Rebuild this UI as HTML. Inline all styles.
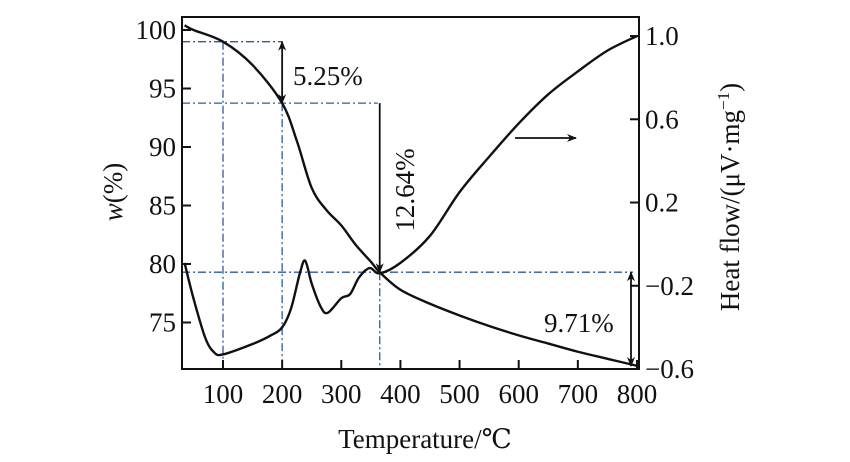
<!DOCTYPE html>
<html><head><meta charset="utf-8"><style>
body{margin:0;background:#fff;}
svg{display:block;font-family:"Liberation Serif","DejaVu Serif",serif;}
</style></head><body>
<svg id="chart" width="850" height="462" viewBox="0 0 850 462">
<defs><marker id="ah" viewBox="0 0 10 10" refX="9" refY="5" markerWidth="10" markerHeight="10" orient="auto-start-reverse" markerUnits="userSpaceOnUse"><path d="M0,1 L10,5 L0,9 L3,5 Z" fill="#111"/></marker></defs>
<g id="grid"></g>
<g id="marks"></g>
<g id="axes"></g>
</svg>
<script>
const tgTemps=[35,50,100,150,200,225,250,275,300,325,350,365,400,450,500,550,600,650,700,750,800];
const tgValues=[100.4,100,99,97,93.75,90.5,86.5,84.6,83.3,81.6,80.2,79.3,77.8,76.6,75.6,74.7,73.9,73.2,72.5,71.9,71.3];
const dscTemps=[35,50,70,85,100,150,180,200,215,230,239,250,265,277,300,315,330,348,365,400,450,500,550,600,650,700,750,800];
const dscValues=[-0.09,-0.26,-0.45,-0.52,-0.53,-0.48,-0.44,-0.40,-0.31,-0.14,-0.08,-0.19,-0.30,-0.33,-0.26,-0.24,-0.16,-0.115,-0.14,-0.09,0.04,0.25,0.42,0.58,0.72,0.83,0.93,1.0];
const xTicks=[100,200,300,400,500,600,700,800];
const wTicks=[75,80,85,90,95,100];
const hTicks=[-0.6,-0.2,0.2,0.6,1.0];
const markTemps=[100,200,365];
const markW=[99,93.75,79.3];
const NS="http://www.w3.org/2000/svg";
const L=182,R=639,T=17,B=369;
const x=t=>223+(t-100)*0.5914;
const yw=w=>30+(100-w)*11.7;
const yh=h=>B-(h+0.6)*208.1;
function el(tag,attrs,parent,text){const e=document.createElementNS(NS,tag);for(const k in attrs)e.setAttribute(k,attrs[k]);if(text!==undefined)e.textContent=text;document.getElementById(parent).appendChild(e);return e;}
markTemps.forEach((t,i)=>{
 const yy=yw(markW[i]);
 const xe=i===0?x(markTemps[1]):(i===1?x(markTemps[2])-2:R-6);
 let g=el('line',{x1:L,y1:yy,x2:xe,y2:yy,stroke:'#2a5aa0','stroke-width':1.3,'stroke-dasharray':'8,3,2,3'},'grid');
 
 
 let v=el('line',{x1:x(t),y1:yy,x2:x(t),y2:B,stroke:'#2a5aa0','stroke-width':1.3,'stroke-dasharray':'8,3,2,3'},'grid');
 
 
});
function smooth(pts){let d='M'+pts[0][0]+','+pts[0][1];for(let i=0;i<pts.length-1;i++){const p0=pts[Math.max(0,i-1)],p1=pts[i],p2=pts[i+1],p3=pts[Math.min(pts.length-1,i+2)];const c1=[p1[0]+(p2[0]-p0[0])/6,p1[1]+(p2[1]-p0[1])/6],c2=[p2[0]-(p3[0]-p1[0])/6,p2[1]-(p3[1]-p1[1])/6];d+=' C'+c1[0]+','+c1[1]+' '+c2[0]+','+c2[1]+' '+p2[0]+','+p2[1];}return d;}
let tg=el('path',{d:smooth(tgTemps.map((t,i)=>[x(t),yw(tgValues[i])])),fill:'none',stroke:'#111','stroke-width':2.4},'marks');


let dsc=el('path',{d:smooth(dscTemps.map((t,i)=>[x(t),yh(dscValues[i])])),fill:'none',stroke:'#111','stroke-width':2.4},'marks');


function arrow(x1,y1,x2,y2,both,name){const a=el('line',{x1:x1,y1:y1,x2:x2,y2:y2,stroke:'#111','stroke-width':1.8,'marker-end':'url(#ah)'},'marks');if(both)a.setAttribute('marker-start','url(#ah)');}
arrow(x(200),yw(99),x(200),yw(93.75),true,'arrow-5-25');
arrow(x(365),yw(93.75),x(365),yw(79.3),false,'arrow-12-64');
arrow(631,yw(79.3),631,366,true,'arrow-9-71');
arrow(515,138,576,138,false,'arrow-right-axis');
let f=el('rect',{x:L,y:T,width:R-L,height:B-T,fill:'none',stroke:'#111','stroke-width':2},'axes');


xTicks.forEach(t=>{el('line',{x1:x(t),y1:B,x2:x(t),y2:B-9,stroke:'#111','stroke-width':2},'axes');
 let tx=el('text',{x:x(t),y:403,'font-size':27,'text-anchor':'middle',fill:'#111'},'axes',t);
 
 });
wTicks.forEach(w=>{el('line',{x1:L,y1:yw(w),x2:L+9,y2:yw(w),stroke:'#111','stroke-width':2},'axes');
 let tx=el('text',{x:176,y:yw(w)+9,'font-size':27,'text-anchor':'end',fill:'#111'},'axes',w);
 
 });
hTicks.forEach(h=>{el('line',{x1:R,y1:yh(h),x2:R-9,y2:yh(h),stroke:'#111','stroke-width':2},'axes');
 let tx=el('text',{x:645,y:yh(h)+9,'font-size':27,fill:'#111'},'axes',(h<0?'\u2212':'')+Math.abs(h).toFixed(1));
 
 });
const s=document.getElementById('chart');
s.insertAdjacentHTML('beforeend',
'<text x="293" y="85" font-size="27" fill="#111">5.25%</text>'+
'<text transform="translate(414,190) rotate(-90)" text-anchor="middle" font-size="27" fill="#111">12.64%</text>'+
'<text x="544" y="332" font-size="27" fill="#111">9.71%</text>'+
'<text x="425" y="448" text-anchor="middle" font-size="27" fill="#111">Temperature/\u2103</text>'+
'<text transform="translate(122,192) rotate(-90)" text-anchor="middle" font-size="27" fill="#111"><tspan font-style="italic">w</tspan>(%)</text>'+
'<text transform="translate(739,197) rotate(-90)" text-anchor="middle" font-size="27" fill="#111">Heat flow/(\u03bcV\u00b7mg<tspan dy="-10" font-size="17">\u22121</tspan><tspan dy="10">)</tspan></text>');
</script>
</body></html>
